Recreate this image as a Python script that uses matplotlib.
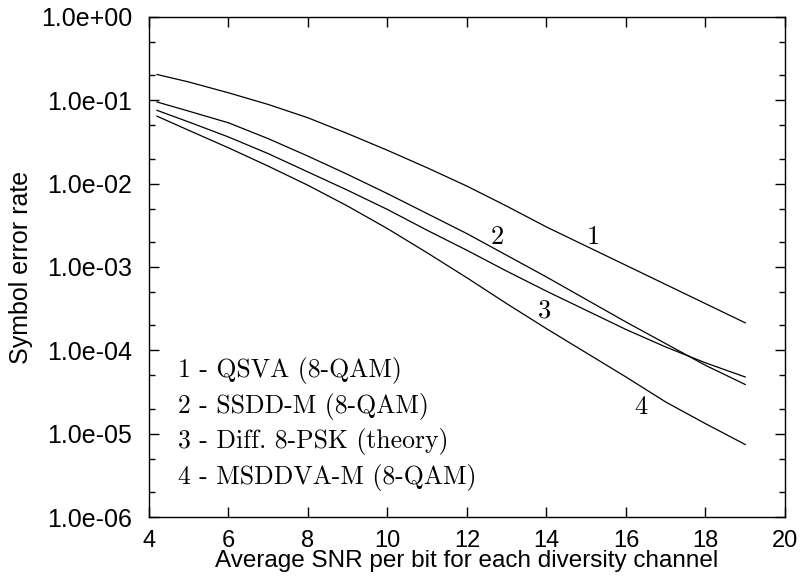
import numpy as np
import matplotlib
matplotlib.use('Agg')
import matplotlib.pyplot as plt
from matplotlib.ticker import LogLocator, FuncFormatter, MultipleLocator

# SNR per bit (dB)
snr = [4.2, 5, 6, 7, 8, 9, 10, 11, 12, 13, 14, 15, 16, 17, 18, 19]

# log10 of symbol error rate
qsva = [-0.69, -0.78, -0.91, -1.05, -1.21, -1.40, -1.60, -1.81,
        -2.03, -2.27, -2.52, -2.75, -2.98, -3.21, -3.44, -3.67]
ssdd = [-1.02, -1.13, -1.27, -1.46, -1.67, -1.89, -2.12, -2.36,
        -2.60, -2.86, -3.12, -3.39, -3.66, -3.92, -4.18, -4.41]
dpsk = [-1.12, -1.26, -1.44, -1.64, -1.86, -2.08, -2.31, -2.56,
        -2.80, -3.05, -3.29, -3.52, -3.75, -3.96, -4.15, -4.32]
msddva = [-1.19, -1.36, -1.57, -1.79, -2.02, -2.27, -2.54, -2.83,
          -3.13, -3.44, -3.74, -4.03, -4.32, -4.62, -4.88, -5.13]

curves = [qsva, ssdd, dpsk, msddva]
curve_names = ['1', '2', '3', '4']
label_x = [15.17, 12.75, 13.94, 16.38]
label_y = [2.3e-3, 2.3e-3, 3.0e-4, 2.1e-5]

legend_lines = ['1 - QSVA (8-QAM)', '2 - SSDD-M (8-QAM)',
                '3 - Diff. 8-PSK (theory)', '4 - MSDDVA-M (8-QAM)']

serif = 'cmr10'
sans = 'Liberation Sans'

fig = plt.figure(figsize=(8.01, 5.83), dpi=100)
ax = fig.add_axes([0.186, 0.1132, 0.794, 0.8577])

for c in curves:
    ax.plot(snr, 10.0 ** np.array(c), color='black', linewidth=0.9)

ax.set_yscale('log')
ax.set_xlim(4, 20)
ax.set_ylim(1e-6, 1)

ax.xaxis.set_major_locator(MultipleLocator(2))
ax.yaxis.set_major_locator(LogLocator(base=10, numticks=10))
ax.yaxis.set_minor_locator(LogLocator(base=10, subs=(2.0, 5.0), numticks=10))
ax.yaxis.set_major_formatter(FuncFormatter(lambda v, p: f'{v:.1e}'))
ax.yaxis.set_minor_formatter(FuncFormatter(lambda v, p: ''))

ax.tick_params(which='both', direction='in', top=True, right=True, width=1)
ax.tick_params(which='major', length=7)
ax.tick_params(which='minor', length=4)
ax.tick_params(axis='x', pad=9, labelsize=17)
ax.tick_params(axis='y', pad=12, labelsize=18)
for lab in ax.get_xticklabels() + ax.get_yticklabels():
    lab.set_family(sans)
for s in ax.spines.values():
    s.set_linewidth(1)

ax.set_xlabel('Average SNR per bit for each diversity channel',
              family=sans, fontsize=17.5, labelpad=-1)
ax.set_ylabel('Symbol error rate', family=sans, fontsize=18, labelpad=6)

for name, x, y in zip(curve_names, label_x, label_y):
    ax.text(x, y, name, family=serif, fontsize=19, ha='center', va='center')

for i, line in enumerate(legend_lines):
    ax.text(4.72, 10 ** (-4.24 - 0.43 * i), line, family=serif,
            fontsize=18.5, ha='left', va='center')

fig.savefig('out.png', dpi=100)
